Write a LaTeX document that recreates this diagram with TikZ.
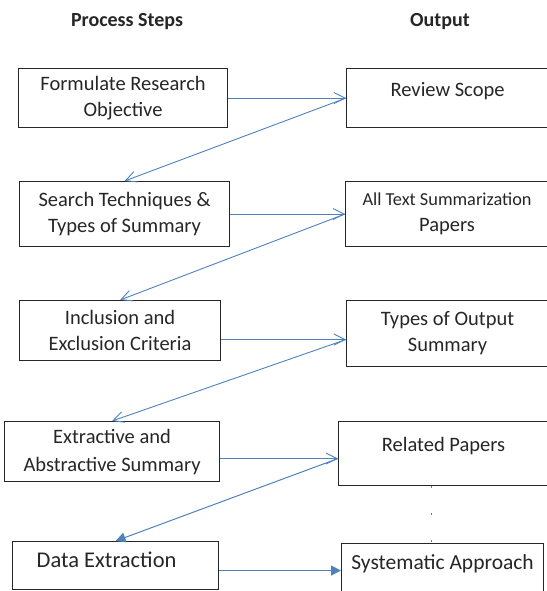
\documentclass[tikz,border=0pt]{standalone}
\usepackage{fontspec}
\setmainfont{Carlito}
\usetikzlibrary{arrows.meta}
\definecolor{linkblue}{RGB}{79,129,189}
\definecolor{boxtext}{RGB}{38,38,38}

\begin{document}
\begin{tikzpicture}[x=1pt,y=-1pt,
  stepbox/.style={draw=black!85,line width=1.1pt,align=center,inner sep=0pt,text=boxtext,
    font=\fontsize{20.5}{26}\selectfont,anchor=north west},
  head/.style={font=\bfseries\fontsize{20}{22}\selectfont,text=boxtext},
  link/.style={draw=linkblue,line width=0.9pt,-{Straight Barb[length=11pt,width=11pt]}},
  solidlink/.style={draw=linkblue,line width=1pt,-{Triangle[length=10pt,width=10pt]}}]
\useasboundingbox (0,0) rectangle (546,591);

\node[head] (hsteps) at (127,22) {Process Steps};
\node[head] (hout) at (440,22) {Output};

% process steps
\node[stepbox,minimum width=209,minimum height=59] (p1) at (18,68) {Formulate Research\\Objective};
\node[stepbox,minimum width=210,minimum height=65] (p2) at (19,181) {Search Techniques \&\\Types of Summary};
\node[stepbox,minimum width=201,minimum height=60] (p3) at (19,300) {Inclusion and\\Exclusion Criteria};
\node[stepbox,minimum width=215,minimum height=60,font=\fontsize{20.5}{28}\selectfont] (p4) at (4,421) {Extractive and\\Abstractive Summary};
\node[stepbox,minimum width=206,text height=26pt,text depth=22pt,font=\fontsize{22.5}{26}\selectfont] (p5) at (12,541) {\hspace*{-18pt}Data Extraction};

% outputs
\node[stepbox,minimum width=202,text height=28pt,text depth=31pt] (o1) at (346,68) {Review Scope};
\node[stepbox,minimum width=203,minimum height=65] (o2) at (345,181) {{\fontsize{18.3}{23}\selectfont All Text Summarization}\\Papers};
\node[stepbox,minimum width=202,minimum height=66] (o3) at (346,300) {Types of Output\\Summary};
\node[stepbox,minimum width=210,text height=30pt,text depth=34pt] (o4) at (338,421) {Related Papers};
\node[stepbox,minimum width=202,text height=26pt,text depth=26pt,font=\fontsize{21.5}{26}\selectfont] (o5) at (341,543) {Systematic Approach};

% connectors
\draw[link] (p1.east) -- (p1.east -| o1.west) coordinate (t1);
\draw[link] (t1) -- (p2.north);
\draw[link] (p2.east) -- (p2.east -| o2.west) coordinate (t2);
\draw[link] (t2) -- (p3.north);
\draw[link] ([yshift=-9pt]p3.east) -- ([yshift=-9pt]p3.east -| o3.west) coordinate (t3);
\draw[link] (t3) -- (p4.north);
\draw[link] ([yshift=-7pt]p4.east) -- ([yshift=-7pt]p4.east -| o4.west) coordinate (t4);
\draw[solidlink] (t4) -- (p5.north);
\draw[solidlink] ([yshift=-5pt]p5.east) -- ([yshift=-5pt]p5.east -| o5.west);
\draw[linkblue,line width=1pt,dash pattern=on 1.5pt off 25.5pt] ([xshift=-12pt]o4.south) -- ([xshift=-12pt]o4.south |- o5.north);
\end{tikzpicture}
\end{document}
